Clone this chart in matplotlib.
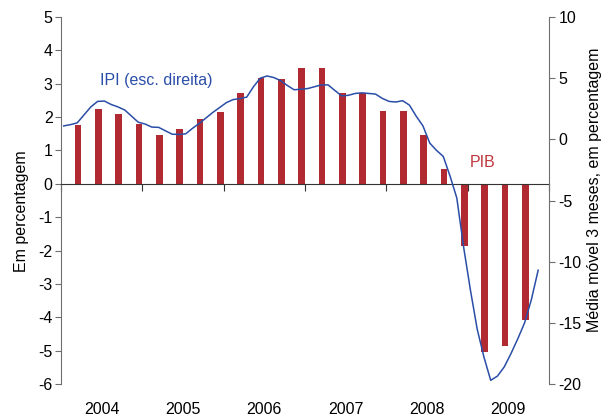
import matplotlib
matplotlib.use("Agg")
import matplotlib.pyplot as plt
import numpy as np

plt.rcParams['font.family'] = ['Liberation Sans', 'DejaVu Sans']
plt.rcParams['axes.unicode_minus'] = False

# PIB, quarterly, 2004Q1 .. 2009Q3 (left axis)
pib_quarters = ['2004T1', '2004T2', '2004T3', '2004T4',
                '2005T1', '2005T2', '2005T3', '2005T4',
                '2006T1', '2006T2', '2006T3', '2006T4',
                '2007T1', '2007T2', '2007T3', '2007T4',
                '2008T1', '2008T2', '2008T3', '2008T4',
                '2009T1', '2009T2', '2009T3']
pib = [1.75, 2.25, 2.1, 1.8,
       1.45, 1.65, 1.95, 2.15,
       2.72, 3.17, 3.14, 3.47,
       3.47, 2.73, 2.73, 2.18,
       2.18, 1.46, 0.43, -1.86,
       -5.05, -4.86, -4.07]

# IPI, 3-month moving average, monthly from Jan 2004 (right axis)
ipi = [1.1, 1.2, 1.35, 2.0, 2.65, 3.1, 3.13, 2.85, 2.65, 2.4, 1.9, 1.4,
       1.25, 1.0, 0.98, 0.7, 0.42, 0.4, 0.45, 0.9, 1.3, 1.75, 2.2, 2.6,
       3.0, 3.25, 3.33, 3.45, 4.3, 5.0, 5.18, 5.05, 4.8, 4.4, 4.05, 4.1,
       4.15, 4.3, 4.45, 4.45, 4.0, 3.55, 3.6, 3.75, 3.8, 3.75, 3.7, 3.35,
       3.1, 3.05, 3.16, 2.8, 1.9, 1.1, -0.3, -0.9, -1.4, -3.0, -4.8, -8.8,
       -12.3, -15.5, -17.8, -19.7, -19.35, -18.6, -17.5, -16.3, -15.0, -13.1, -10.7]

years = [2004, 2005, 2006, 2007, 2008, 2009]

red = '#b12a31'
blue = '#2a4ea8'
grey = '#6e6e6e'

xq = 2004 + (np.arange(len(pib)) + 0.84) / 4
xm = 2004 + (np.arange(len(ipi)) + 0.4) / 12

fig = plt.figure(figsize=(6.03, 4.17), dpi=100)
ax = fig.add_axes([61 / 603, 33 / 417, 488 / 603, 367 / 417])

ax.bar(xq, pib, width=0.08, color=red, zorder=2)
ax.set_xlim(2004, 2010)
ax.set_ylim(-6, 5)
ax.set_yticks(range(-6, 6))
ax.spines['top'].set_visible(False)
ax.spines['right'].set_visible(False)
ax.spines['left'].set_color(grey)
ax.spines['bottom'].set_position(('data', 0))
ax.spines['bottom'].set_color('#333333')
ax.spines['bottom'].set_zorder(3)
ax.set_xticks(range(2004, 2011))
ax.set_xticklabels([])
ax.tick_params(axis='x', length=5, direction='out', color='#333333')
ax.tick_params(axis='y', length=4, pad=2, color=grey, labelsize=11.5)
ax.set_ylabel('Em percentagem', fontsize=11.5)
ax.yaxis.set_label_coords(-0.066, 0.47)

# year labels along the bottom
sec = ax.secondary_xaxis('bottom')
sec.set_xticks([y + 0.5 for y in years], labels=[str(y) for y in years])
sec.tick_params(length=0, pad=13, labelsize=11.5)
sec.spines['bottom'].set_visible(False)

ax.text(2004.48, 3.1, 'IPI (esc. direita)', color=blue, fontsize=11.5,
        va='center', ha='left')
ax.text(2009.02, 0.63, 'PIB', color='#c0363d', fontsize=11.5,
        va='center', ha='left')

ax2 = ax.twinx()
ax2.plot(xm, ipi, color=blue, lw=1.1)
ax2.set_ylim(-20, 10)
ax2.set_yticks(range(-20, 11, 5))
for s in ['top', 'bottom', 'left']:
    ax2.spines[s].set_visible(False)
ax2.spines['right'].set_color(grey)
ax2.tick_params(axis='y', length=4, pad=3, color=grey, labelsize=11.5)
ax2.set_ylabel('Média móvel 3 meses, em percentagem', fontsize=11.5)
ax2.yaxis.set_label_coords(1.078, 0.53)

fig.savefig('out.png', dpi=100)
